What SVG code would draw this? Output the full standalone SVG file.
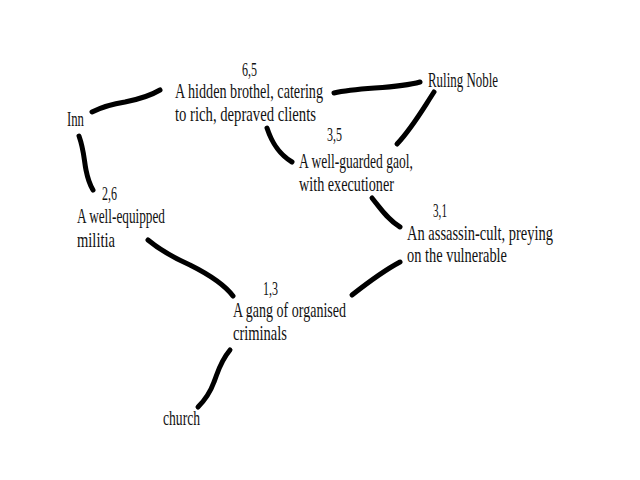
<svg xmlns="http://www.w3.org/2000/svg" width="640" height="480" viewBox="0 0 640 480">
<style>
text{font-family:"Liberation Serif","Times New Roman",serif;font-size:21px;fill:#111}
text.n{font-size:18px}
.c path{fill:none;stroke:#000;stroke-width:5;stroke-linecap:round}
</style>
<rect width="640" height="480" fill="#fff"/>
<g class="c" id="connectors">
<path d="M92,112 C104,106 112,104 125,102 C140,99 150,96 160,90"/>
<path d="M79,136 C84,150 84,160 86,170 C88,180 90,185 93,190"/>
<path d="M267,128 C271,140 277,153 292,162"/>
<path d="M334,93 C360,87 395,89 420,82"/>
<path d="M434,92 C421,112 412,128 397,144"/>
<path d="M372,198 C380,208 388,220 400,227"/>
<path d="M400,262 C385,270 366,284 352,295"/>
<path d="M148,240 C160,250 172,257 190,265 C210,275 224,284 233,296"/>
<path d="M230,350 C220,362 218,372 214,382 C210,393 205,400 198,407"/>
</g>
<g id="brothel">
<text class="n" x="242" y="76" textLength="15" lengthAdjust="spacingAndGlyphs">6,5</text>
<text x="175" y="98" textLength="148" lengthAdjust="spacingAndGlyphs">A hidden brothel, catering</text>
<text x="175" y="121" textLength="141" lengthAdjust="spacingAndGlyphs">to rich, depraved clients</text>
</g>
<g id="inn">
<text x="67" y="126" textLength="17" lengthAdjust="spacingAndGlyphs">Inn</text>
</g>
<g id="noble">
<text x="428" y="87" textLength="70" lengthAdjust="spacingAndGlyphs">Ruling Noble</text>
</g>
<g id="gaol">
<text class="n" x="327" y="141" textLength="15" lengthAdjust="spacingAndGlyphs">3,5</text>
<text x="299" y="168" textLength="114" lengthAdjust="spacingAndGlyphs">A well-guarded gaol,</text>
<text x="299" y="191" textLength="95" lengthAdjust="spacingAndGlyphs">with executioner</text>
</g>
<g id="assassin">
<text class="n" x="433" y="217" textLength="14" lengthAdjust="spacingAndGlyphs">3,1</text>
<text x="407" y="240" textLength="146" lengthAdjust="spacingAndGlyphs">An assassin-cult, preying</text>
<text x="407" y="262" textLength="100" lengthAdjust="spacingAndGlyphs">on the vulnerable</text>
</g>
<g id="militia">
<text class="n" x="102" y="200" textLength="15" lengthAdjust="spacingAndGlyphs">2,6</text>
<text x="77" y="223" textLength="88" lengthAdjust="spacingAndGlyphs">A well-equipped</text>
<text x="77" y="247" textLength="38" lengthAdjust="spacingAndGlyphs">militia</text>
</g>
<g id="gang">
<text class="n" x="263" y="295" textLength="15" lengthAdjust="spacingAndGlyphs">1,3</text>
<text x="233" y="317" textLength="113" lengthAdjust="spacingAndGlyphs">A gang of organised</text>
<text x="233" y="340" textLength="54" lengthAdjust="spacingAndGlyphs">criminals</text>
</g>
<g id="church">
<text x="163" y="425" textLength="37" lengthAdjust="spacingAndGlyphs">church</text>
</g>
</svg>
